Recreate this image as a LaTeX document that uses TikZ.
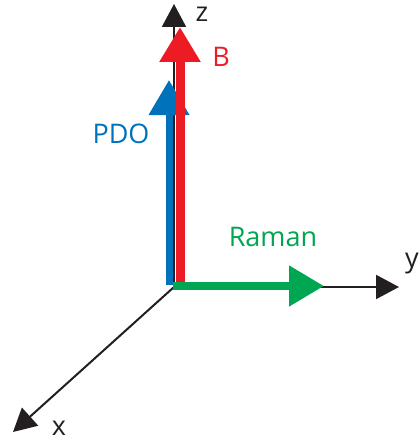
\documentclass[tikz,border=0pt]{standalone}
\usepackage{fontspec}
\setmainfont{Open Sans}
\usetikzlibrary{arrows.meta}
\definecolor{axblack}{RGB}{35,31,32}
\definecolor{pdoblue}{RGB}{0,114,188}
\definecolor{bred}{RGB}{237,28,36}
\definecolor{ramgreen}{RGB}{0,166,81}
\tikzset{
  axis/.style={draw=axblack, line width=2pt, -{Triangle[length=23pt,width=24pt]}},
  fat/.style={line width=8pt, -{Triangle[length=35pt,width=39pt]}},
  lbl/.style={font=\fontsize{27}{30}\selectfont, inner sep=0pt}
}
\begin{document}
\begin{tikzpicture}[x=1pt,y=-1pt]
\useasboundingbox (0,0) rectangle (418,441);
\coordinate (o) at (174,287);
\coordinate (zt) at (174,4);
\coordinate (yt) at (399,287);
\coordinate (xt) at (13,432);
\coordinate (pb) at (169,285);
\coordinate (pt) at (169,80);
\coordinate (bb) at (180,285);
\coordinate (btop) at (180,27);
\coordinate (gs) at (173,286);
\coordinate (ge) at (324,286);
% axes
\draw[axis] (o) -- (zt);
\draw[axis] (o) -- (yt);
\draw[axis] (o) -- (xt);
% vectors
\draw[fat, draw=pdoblue, fill=pdoblue, line width=7pt] (pb) -- (pt);
\draw[fat, draw=bred, fill=bred, line width=9pt] (bb) -- (btop);
\draw[fat, draw=ramgreen, fill=ramgreen] (gs) -- (ge);
% labels
\node[lbl, text=axblack] (zl) at (202,14) {z};
\node[lbl, text=axblack, anchor=west] (yl) at (405,264) {y};
\node[lbl, text=axblack] (xl) at (59,428) {x};
\node[lbl, text=bred] (bl) at (221,57) {B};
\node[lbl, text=pdoblue] (pl) at (121,134) {PDO};
\node[lbl, text=ramgreen] (rl) at (273,237) {Raman};
\end{tikzpicture}
\end{document}
